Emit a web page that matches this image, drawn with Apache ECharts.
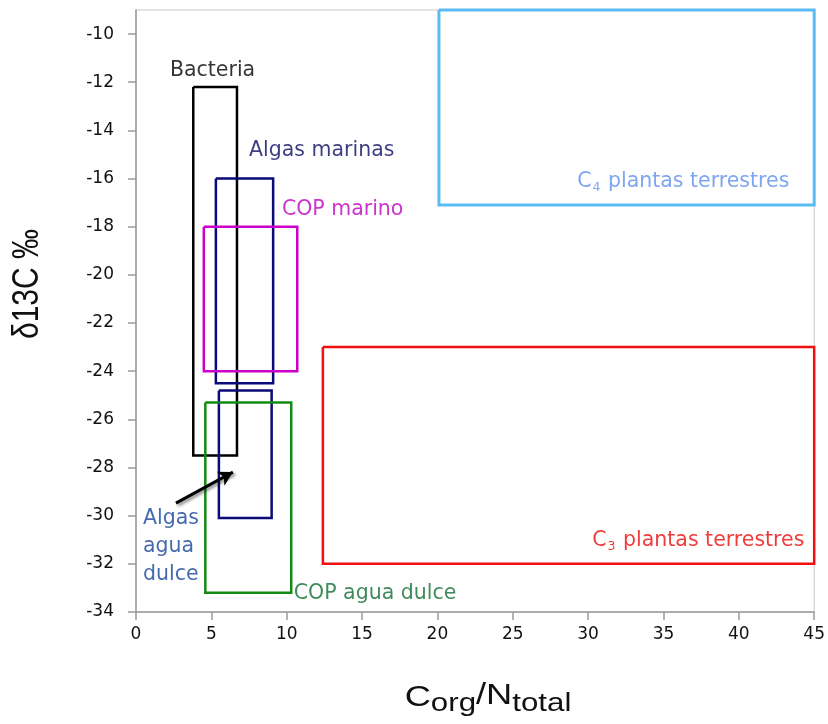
<!DOCTYPE html>
<html><head><meta charset="utf-8">
<script src="https://cdn.jsdelivr.net/npm/echarts@6/dist/echarts.min.js"></script>
<style>html,body{margin:0;padding:0;background:#fff}#c{width:828px;height:724px}</style>
</head><body><div id="c"></div>
<script>
// Box categories and their ranges (C/N ratio and δ13C)
const boxNames = ['Bacteria','Algas marinas','COP marino','Algas agua dulce','COP agua dulce','C4 plantas terrestres','C3 plantas terrestres'];
const cnMin  = [3.8, 5.3, 4.5, 5.5, 4.6, 20.1, 12.4];
const cnMax  = [6.7, 9.1, 10.7, 9.0, 10.3, 45, 45];
const d13Max = [-12.2, -16.0, -18.0, -24.8, -25.3, -9.0, -23.0];
const d13Min = [-27.5, -24.5, -24.0, -30.1, -33.2, -17.1, -32.0];
const xTicks = [0,5,10,15,20,25,30,35,40,45];
const yTicks = [-34,-32,-30,-28,-26,-24,-22,-20,-18,-16,-14,-12,-10];

const boxColors = ['#000000','#0a0a78','#cc00cc','#0a0a78','#138a13','#5bbcf5','#f01010'];
const boxWidths = [2.5,2.5,2.5,2.5,2.5,3,2.5];

// label anchor positions (data coords) and styling
const labelCfg = [
  {x:2.25, y:-11.5, side:'right', color:'#000000', text:'Bacteria'},
  {x:7.5, y:-14.83, side:'right', color:'#0c0c60', text:'Algas marinas'},
  {x:9.68, y:-17.28, side:'right', color:'#c000c0', text:'COP marino'},
  {x:0.46, y:-31.28, side:'right', color:'#15449a', text:'Algas\nagua\ndulce'},
  {x:10.47, y:-33.25, side:'right', color:'#0f6e32', text:'COP agua dulce'},
  {x:43.35, y:-16.12, side:'left', color:'#5c8eec', text:'{m|C}{s|4}{m| plantas terrestres}'},
  {x:44.35, y:-31.05, side:'left', color:'#ee0a0a', text:'{m|C}{s|3}{m| plantas terrestres}'}
];

const FONT = 'DejaVu Sans, Verdana, sans-serif';
const TFONT = 'Liberation Sans, Arial, sans-serif';
const series = [];
boxNames.forEach((n,i)=>{
  series.push({
    type:'line', name:n, silent:true, clip:false, symbol:'none', animation:false,
    lineStyle:{color:boxColors[i], width:boxWidths[i], join:'miter'},
    data:[[cnMin[i],d13Max[i]],[cnMax[i],d13Max[i]],[cnMax[i],d13Min[i]],[cnMin[i],d13Min[i]],[cnMin[i],d13Max[i]]],
    z:3
  });
});
labelCfg.forEach((l,i)=>{
  series.push({
    type:'scatter', symbolSize:0, silent:true, animation:false, z:5,
    data:[[l.x,l.y]],
    label:{show:true, position:l.side, distance:0, formatter:l.text,
      color:l.color, fontFamily:FONT, fontSize:20.5, lineHeight:28, align: l.side==='right'?'left':'right',
      rich:{m:{fontSize:20.5,color:l.color,fontFamily:FONT}, s:{fontSize:12.5,color:l.color,fontFamily:FONT,padding:[12,1,0,1]}}
    }
  });
});
// arrow pointing to Algas agua dulce box
series.push({
  type:'line', data:[], silent:true, animation:false,
  markLine:{silent:true, symbol:['none','arrow'], symbolSize:[12,14], label:{show:false},
    lineStyle:{type:'solid', color:'#000', width:3, shadowBlur:3, shadowColor:'rgba(0,0,0,0.45)', shadowOffsetX:2, shadowOffsetY:2},
    data:[[{coord:[2.65,-29.48]},{coord:[6.43,-28.19]}]]
  }, z:6
});

const chart = echarts.init(document.getElementById('c'), null, {renderer:'canvas'});
chart.setOption({
  animation:false,
  backgroundColor:'#fff',
  grid:{left:136, right:13, top:10, bottom:112, show:true, borderColor:'#c8c8c8', borderWidth:1},
  xAxis:{type:'value', min:xTicks[0], max:xTicks[xTicks.length-1], interval:5,
    axisLine:{show:true, onZero:false, lineStyle:{color:'#9a9a9a', width:1.5}},
    axisTick:{show:true, length:8, lineStyle:{color:'#9a9a9a', width:1.5}},
    axisLabel:{color:'#111', fontSize:17, fontFamily:FONT, margin:14},
    splitLine:{show:false}},
  yAxis:{type:'value', min:yTicks[0], max:-9, interval:2,
    axisLine:{show:true, onZero:false, lineStyle:{color:'#9a9a9a', width:1.5}},
    axisTick:{show:true, length:8, lineStyle:{color:'#9a9a9a', width:1.5}},
    axisLabel:{color:'#111', fontSize:17, fontFamily:FONT, margin:22, showMaxLabel:false,
      formatter:v=> yTicks.indexOf(v)>=0 ? String(v) : ''},
    splitLine:{show:false}},
  graphic:[
    {type:'text', x:28, y:284, rotation:Math.PI/2, scaleY:1.2, silent:true,
      style:{text:'δ13C ‰', font:'30px '+TFONT, fill:'#111', align:'center', verticalAlign:'middle'}},
    {type:'text', x:488, y:700, scaleX:1.25, silent:true,
      style:{text:'{b|C}{s|org}{n|/N}{s|total}', align:'center', verticalAlign:'middle', fill:'#111',
        rich:{b:{fontSize:29,fontFamily:TFONT,fill:'#111',padding:[0,0,4,0]}, n:{fontSize:29,fontFamily:TFONT,fill:'#111',padding:[0,0,8,0]}, s:{fontSize:25,fontFamily:TFONT,fill:'#111',padding:[8,0,0,0]}}}}
  ],
  series:series
});
</script></body></html>
